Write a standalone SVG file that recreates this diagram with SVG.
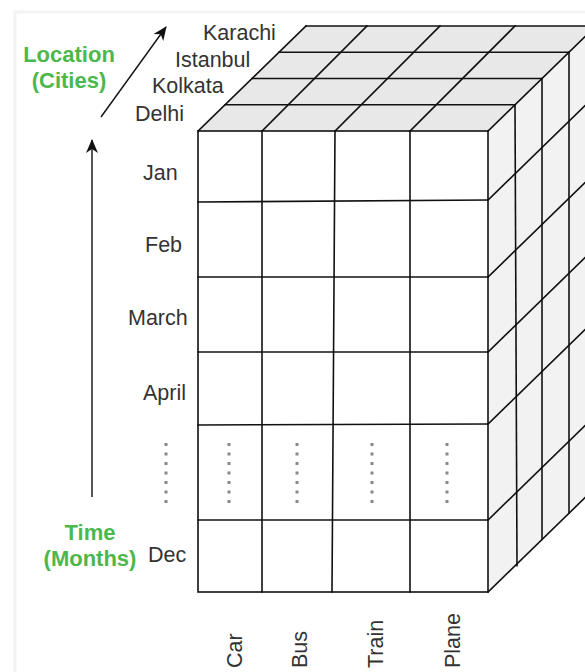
<svg xmlns="http://www.w3.org/2000/svg" width="585" height="672" viewBox="0 0 585 672">
<defs>
<style>
.ln{stroke:#111;stroke-width:1.6;fill:none;stroke-linecap:square}
.lbl{font-family:"Liberation Sans",Arial,sans-serif;font-size:21.5px;fill:#333}
.grn{font-family:"Liberation Sans",Arial,sans-serif;font-size:22px;font-weight:bold;fill:#4cb84c}
.dots{stroke:#888;stroke-width:3;stroke-dasharray:3 6.5}
.arr{stroke:#111;stroke-width:1.4;fill:none}
</style>
<marker id="ah" viewBox="0 0 14 12" refX="13" refY="6" markerWidth="14" markerHeight="12" markerUnits="userSpaceOnUse" orient="auto">
<path d="M0,0 L14,6 L0,12 L4,6 Z" fill="#111"/>
</marker>
</defs>
<rect x="0" y="0" width="585" height="672" fill="#fff"/>
<rect x="15" y="12" width="580" height="680" fill="none" stroke="#f3f3f3" stroke-width="3"/>

<g id="cube">
<polygon points="198,131 488,131 596,26 306,26" fill="#e8e8e8"/>
<polygon points="488,131 596,26 596,487 488,592" fill="#f2f2f2"/>
<rect x="198" y="131" width="290" height="461" fill="#fff"/>
</g>

<g id="connectors">
<rect class="ln" x="198" y="131" width="290" height="461"/>
<line class="ln" x1="262" y1="131" x2="262" y2="592"/>
<line class="ln" x1="335" y1="131" x2="332" y2="592"/>
<line class="ln" x1="410" y1="131" x2="410" y2="592"/>
<line class="ln" x1="198" y1="202" x2="488" y2="200"/>
<line class="ln" x1="198" y1="277" x2="488" y2="277"/>
<line class="ln" x1="198" y1="352" x2="488" y2="352"/>
<line class="ln" x1="198" y1="425" x2="488" y2="424"/>
<line class="ln" x1="198" y1="520" x2="488" y2="520"/>
<line class="ln" x1="198" y1="131" x2="306" y2="26"/>
<line class="ln" x1="262" y1="131" x2="367" y2="26"/>
<line class="ln" x1="335" y1="131" x2="440" y2="26"/>
<line class="ln" x1="410" y1="131" x2="515" y2="26"/>
<line class="ln" x1="488" y1="131" x2="596" y2="26"/>
<line class="ln" x1="225" y1="104.75" x2="515" y2="104.75"/>
<line class="ln" x1="252" y1="78.5" x2="542" y2="78.5"/>
<line class="ln" x1="279" y1="52.25" x2="569" y2="52.25"/>
<line class="ln" x1="306" y1="26" x2="596" y2="26"/>
<line class="ln" x1="515" y1="104.75" x2="517" y2="565.75"/>
<line class="ln" x1="542" y1="78.5" x2="542" y2="539.5"/>
<line class="ln" x1="569" y1="52.25" x2="569" y2="513.25"/>
<line class="ln" x1="488" y1="200" x2="596" y2="95"/>
<line class="ln" x1="488" y1="277" x2="596" y2="172"/>
<line class="ln" x1="488" y1="352" x2="596" y2="247"/>
<line class="ln" x1="488" y1="424" x2="596" y2="319"/>
<line class="ln" x1="488" y1="520" x2="596" y2="415"/>
<line class="ln" x1="488" y1="592" x2="596" y2="487"/>
<line class="dots" x1="166" y1="443" x2="166" y2="503"/>
<line class="dots" x1="229" y1="443" x2="229" y2="503"/>
<line class="dots" x1="297" y1="443" x2="297" y2="503"/>
<line class="dots" x1="372" y1="443" x2="372" y2="503"/>
<line class="dots" x1="447" y1="443" x2="447" y2="503"/>
<line class="arr" x1="92" y1="497" x2="92" y2="140" marker-end="url(#ah)"/>
<line class="arr" x1="101" y1="117" x2="166" y2="27" marker-end="url(#ah)"/>
</g>

<g id="cities">
<text class="lbl" x="203" y="40">Karachi</text>
<text class="lbl" x="175" y="67">Istanbul</text>
<text class="lbl" x="152" y="93">Kolkata</text>
<text class="lbl" x="135" y="121">Delhi</text>
</g>
<g id="months">
<text class="lbl" x="143" y="180">Jan</text>
<text class="lbl" x="145" y="252">Feb</text>
<text class="lbl" x="128" y="325">March</text>
<text class="lbl" x="143" y="400">April</text>
<text class="lbl" x="148" y="562">Dec</text>
</g>
<g id="vehicles">
<text class="lbl" transform="translate(242,668) rotate(-90)">Car</text>
<text class="lbl" transform="translate(307,668) rotate(-90)">Bus</text>
<text class="lbl" transform="translate(383,668) rotate(-90)">Train</text>
<text class="lbl" transform="translate(460,668) rotate(-90)">Plane</text>
</g>
<g id="axis-labels">
<text class="grn" x="69" y="62" text-anchor="middle">Location</text>
<text class="grn" x="69" y="88" text-anchor="middle">(Cities)</text>
<text class="grn" x="90" y="540" text-anchor="middle">Time</text>
<text class="grn" x="90" y="566" text-anchor="middle">(Months)</text>
</g>
</svg>
